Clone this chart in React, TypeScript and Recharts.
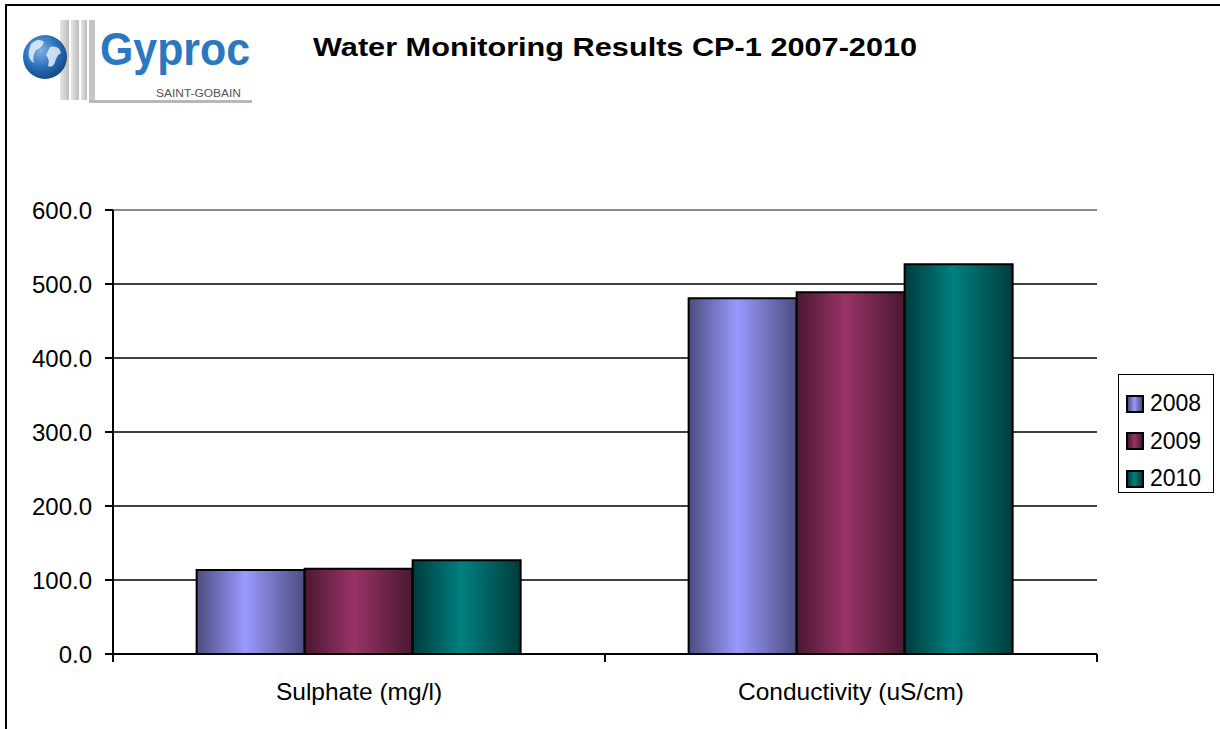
import React from "react"
import { BarChart, Bar, XAxis, YAxis, CartesianGrid, ReferenceLine } from "recharts"

const categories = ["Sulphate (mg/l)", "Conductivity (uS/cm)"]
const years = ["2008", "2009", "2010"]
const values2008 = [113.5, 480.7]
const values2009 = [115.3, 488.8]
const values2010 = [126.6, 526.6]
const yTicks = [0, 100, 200, 300, 400, 500, 600]

const series = [
  { key: "y2008", name: years[0], values: values2008, light: "#9999ff", dark: "#4d4d80" },
  { key: "y2009", name: years[1], values: values2009, light: "#993366", dark: "#4a1832" },
  { key: "y2010", name: years[2], values: values2010, light: "#008080", dark: "#003c3c" },
]

const data = categories.map((name, i) => {
  const row: Record<string, string | number> = { name }
  series.forEach((s) => {
    row[s.key] = s.values[i]
  })
  return row
})

const FONT = "Arial, 'Liberation Sans', sans-serif"

function CategoryTick(props: any) {
  const { x, y, payload, width, visibleTicksCount } = props
  const half = payload && payload.offset ? payload.offset : width / (visibleTicksCount || 2) / 2
  return (
    <g>
      <line x1={x - half} x2={x - half} y1={y - 8} y2={y} stroke="#000" strokeWidth={2} />
      <line x1={x + half} x2={x + half} y1={y - 8} y2={y} stroke="#000" strokeWidth={2} />
      <text x={x} y={y + 38} textAnchor="middle" fontSize={24.5} fontFamily={FONT} fill="#000">
        {payload.value}
      </text>
    </g>
  )
}

function Logo() {
  return (
    <svg width={260} height={110} style={{ position: "absolute", left: 0, top: 0 }}>
      <defs>
        <radialGradient id="globe" cx="40%" cy="35%" r="70%">
          <stop offset="0%" stopColor="#7fb4e6" />
          <stop offset="55%" stopColor="#2a6fb8" />
          <stop offset="100%" stopColor="#12467f" />
        </radialGradient>
        <linearGradient id="stripe" x1="0" y1="0" x2="1" y2="0">
          <stop offset="0%" stopColor="#e6e6e6" />
          <stop offset="100%" stopColor="#bcbcbc" />
        </linearGradient>
      </defs>
      <rect x={60} y={20} width={9} height={80} fill="url(#stripe)" />
      <rect x={71} y={20} width={8} height={80} fill="url(#stripe)" />
      <rect x={81} y={20} width={6} height={80} fill="url(#stripe)" />
      <rect x={89} y={20} width={6} height={82} fill="#c4c4c4" />
      <rect x={89} y={100} width={163} height={3} fill="#b8b8b8" />
      <circle cx={45} cy={57} r={22} fill="url(#globe)" />
      <path d="M31 44 q7 -7 13 -2 q-2 6 -8 8 q-4 6 -2 13 q-7 -4 -5 -13 z" fill="#e4eef9" opacity={0.85} />
      <path d="M50 47 q9 -2 11 6 q-4 2 -6 9 q-2 6 -7 4 q2 -7 -2 -11 z" fill="#e4eef9" opacity={0.85} />
      <text
        x={100}
        y={65}
        fontSize={46}
        fontWeight="bold"
        fontFamily={FONT}
        fill="#2a78c0"
        textLength={150}
        lengthAdjust="spacingAndGlyphs"
      >
        Gyproc
      </text>
      <text
        x={156}
        y={97}
        fontSize={10}
        fontFamily={FONT}
        fill="#555"
        textLength={85}
        lengthAdjust="spacingAndGlyphs"
      >
        SAINT-GOBAIN
      </text>
    </svg>
  )
}

function Legend() {
  return (
    <div
      style={{
        position: "absolute",
        left: 1118,
        top: 374,
        width: 96,
        height: 119,
        border: "1.5px solid #000",
        boxSizing: "border-box",
        fontFamily: FONT,
        fontSize: 23,
        paddingTop: 10,
      }}
    >
      {series.map((s) => (
        <div key={s.key} style={{ display: "flex", alignItems: "center", height: 37.5 }}>
          <div
            style={{
              width: 14,
              height: 14,
              marginLeft: 7,
              marginRight: 6,
              border: "2px solid #000",
              background: `linear-gradient(to right, ${s.dark}, ${s.light} 45%, ${s.dark})`,
            }}
          />
          <span>{s.name}</span>
        </div>
      ))}
    </div>
  )
}

export default function App() {
  return (
    <div style={{ position: "absolute", left: 0, top: 0, width: 1220, height: 729, background: "#fff", overflow: "hidden" }}>
      <div
        style={{
          position: "absolute",
          left: 5,
          top: 4,
          width: 1230,
          height: 740,
          borderLeft: "2px solid #000",
          borderTop: "2px solid #000",
        }}
      />
      <Logo />
      <div
        style={{
          position: "absolute",
          left: 313,
          top: 32,
          fontFamily: FONT,
          fontWeight: "bold",
          fontSize: 26,
          whiteSpace: "nowrap",
          transform: "scaleX(1.18)",
          transformOrigin: "left top",
        }}
      >
        Water Monitoring Results CP-1 2007-2010
      </div>
      <div style={{ position: "absolute", left: 0, top: 0 }}>
        <BarChart
          width={1220}
          height={729}
          data={data}
          margin={{ top: 210, right: 123, bottom: 35, left: 13 }}
          barCategoryGap="17%"
          barGap={0}
        >
          <defs>
            {series.map((s) => (
              <linearGradient key={s.key} id={`grad-${s.key}`} x1="0" y1="0" x2="1" y2="0">
                <stop offset="0%" stopColor={s.dark} />
                <stop offset="45%" stopColor={s.light} />
                <stop offset="100%" stopColor={s.dark} />
              </linearGradient>
            ))}
          </defs>
          <CartesianGrid vertical={false} stroke="#000" strokeWidth={1.5} />
          <ReferenceLine y={600} stroke="#8a8a8a" strokeWidth={2} />
          <XAxis
            dataKey="name"
            height={40}
            tickSize={8}
            tickMargin={0}
            tickLine={false}
            axisLine={{ stroke: "#000", strokeWidth: 2 }}
            tick={<CategoryTick />}
            interval={0}
          />
          <YAxis
            domain={[0, 600]}
            ticks={yTicks}
            width={100}
            tickSize={8}
            tickMargin={13}
            tickFormatter={(v: number) => v.toFixed(1)}
            tick={{ fontSize: 24, fontFamily: FONT, fill: "#000" }}
            tickLine={{ stroke: "#000", strokeWidth: 2 }}
            axisLine={{ stroke: "#000", strokeWidth: 2 }}
          />
          <YAxis
            yAxisId="frame"
            orientation="right"
            width={0}
            domain={[0, 600]}
            tick={false}
            tickLine={false}
            axisLine={{ stroke: "#8a8a8a", strokeWidth: 2 }}
          />
          {series.map((s) => (
            <Bar
              key={s.key}
              dataKey={s.key}
              name={s.name}
              fill={`url(#grad-${s.key})`}
              stroke="#000"
              strokeWidth={2}
              isAnimationActive={false}
            />
          ))}
        </BarChart>
      </div>
      <Legend />
    </div>
  )
}
